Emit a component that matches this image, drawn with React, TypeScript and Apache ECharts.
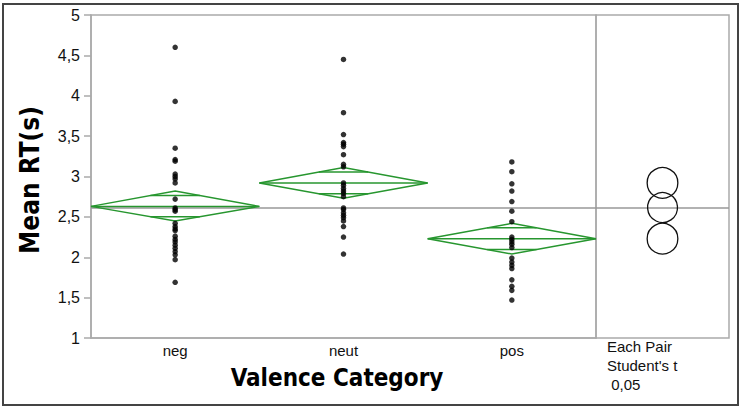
import React, { useEffect, useRef } from "react";
import * as echarts from "echarts";

const categories = ["neg", "neut", "pos"];
const negRT = [4.6, 3.93, 3.35, 3.21, 3.19, 3.03, 3.0, 2.97, 2.92, 2.72, 2.61, 2.59, 2.57, 2.42, 2.38, 2.35, 2.33, 2.26, 2.22, 2.19, 2.15, 2.11, 2.07, 2.03, 1.97, 1.69];
const neutRT = [4.45, 3.79, 3.52, 3.42, 3.4, 3.37, 3.27, 3.15, 3.12, 2.92, 2.89, 2.85, 2.82, 2.79, 2.75, 2.61, 2.59, 2.55, 2.52, 2.49, 2.45, 2.38, 2.25, 2.04];
const posRT = [3.18, 3.06, 2.91, 2.82, 2.69, 2.57, 2.44, 2.25, 2.22, 2.19, 2.16, 2.12, 1.99, 1.94, 1.9, 1.86, 1.72, 1.64, 1.59, 1.47];
const means = [2.63, 2.92, 2.23];
const ciLower = [2.45, 2.73, 2.04];
const ciUpper = [2.82, 3.11, 2.42];
const grandMean = 2.61;
const yMin = 1;
const yMax = 5;
const yInterval = 0.5;
const comparisonText = ["Each Pair", "Student's t", " 0,05"];
const yTitle = "Mean RT(s)";
const xTitle = "Valence Category";

export default function App() {
  const ref = useRef<HTMLDivElement>(null);
  useEffect(() => {
    if (!ref.current) return;
    const chart = echarts.init(ref.current, undefined, { renderer: "svg" });
    const groups = [negRT, neutRT, posRT];
    const points: number[][] = [];
    groups.forEach((g, i) => g.forEach((v) => points.push([i, v])));
    const diamondData = means.map((m, i) => [i, m, ciLower[i], ciUpper[i]]);
    const green = "#27962f";
    const titleFont = "'DejaVu Sans Condensed', 'DejaVu Sans', sans-serif";
    const labelFont = "'Liberation Sans', Arial, sans-serif";
    const option: any = {
      animation: false,
      backgroundColor: "#fff",
      grid: [
        { left: 91, top: 15, width: 505, height: 323, show: true, borderColor: "#aaa", borderWidth: 1.5, containLabel: false },
        { left: 596, top: 15, width: 133, height: 323, show: true, borderColor: "#aaa", borderWidth: 1.5, containLabel: false },
      ],
      xAxis: [
        {
          type: "category",
          gridIndex: 0,
          data: categories,
          axisLine: { lineStyle: { color: "#aaa", width: 1.5 } },
          axisTick: { length: 5, lineStyle: { color: "#aaa", width: 1.5 } },
          axisLabel: { fontSize: 15, color: "#111", margin: 5, fontFamily: labelFont },
        },
        { type: "value", gridIndex: 1, min: 0, max: 1, show: false },
      ],
      yAxis: [
        {
          type: "value",
          gridIndex: 0,
          min: yMin,
          max: yMax,
          interval: yInterval,
          axisLine: { show: true, lineStyle: { color: "#aaa", width: 1.5 } },
          axisTick: { show: true, length: 7, lineStyle: { color: "#aaa", width: 1.5 } },
          splitLine: { show: false },
          axisLabel: {
            fontSize: 16,
            color: "#111",
            margin: 11,
            fontFamily: labelFont,
            formatter: (v: number) => String(v).replace(".", ","),
          },
        },
        { type: "value", gridIndex: 1, min: yMin, max: yMax, show: false },
      ],
      series: [
        {
          type: "scatter",
          xAxisIndex: 0,
          yAxisIndex: 0,
          data: points,
          symbolSize: 5.5,
          itemStyle: { color: "#000" },
          z: 5,
          markLine: {
            silent: true,
            symbol: "none",
            label: { show: false },
            lineStyle: { color: "#999", width: 1.5, type: "solid" },
            data: [{ yAxis: grandMean }],
            z: 1,
          },
        },
        {
          type: "line",
          xAxisIndex: 1,
          yAxisIndex: 1,
          data: [[0, grandMean], [1, grandMean]],
          showSymbol: false,
          lineStyle: { color: "#999", width: 1.5 },
          z: 1,
        },
        {
          type: "custom",
          xAxisIndex: 0,
          yAxisIndex: 0,
          data: diamondData,
          z: 3,
          renderItem: (params: any, api: any) => {
            const i = api.value(0);
            const m = api.value(1);
            const lo = api.value(2);
            const hi = api.value(3);
            const c = api.coord([i, m]);
            const top = api.coord([i, hi])[1];
            const bot = api.coord([i, lo])[1];
            const w = api.size([1, 0])[0];
            const xl = c[0] - w / 2;
            const xr = c[0] + w / 2;
            const k = 1 / Math.SQRT2;
            const yu = c[1] - (c[1] - top) * k;
            const yl = c[1] + (bot - c[1]) * k;
            const hw = ((1 - k) * w) / 2;
            const st = { stroke: green, lineWidth: 1.5, fill: "none" };
            return {
              type: "group",
              children: [
                { type: "polygon", shape: { points: [[xl, c[1]], [c[0], top], [xr, c[1]], [c[0], bot]] }, style: st },
                { type: "line", shape: { x1: xl, y1: c[1], x2: xr, y2: c[1] }, style: st },
                { type: "line", shape: { x1: c[0] - hw, y1: yu, x2: c[0] + hw, y2: yu }, style: st },
                { type: "line", shape: { x1: c[0] - hw, y1: yl, x2: c[0] + hw, y2: yl }, style: st },
              ],
            };
          },
        },
        {
          type: "custom",
          xAxisIndex: 1,
          yAxisIndex: 1,
          data: diamondData,
          z: 3,
          renderItem: (params: any, api: any) => {
            const m = api.value(1);
            const lo = api.value(2);
            const hi = api.value(3);
            const c = api.coord([0.5, m]);
            const r = api.size([0, (hi - lo) / 2])[1];
            return {
              type: "circle",
              shape: { cx: c[0], cy: c[1], r },
              style: { fill: "none", stroke: "#111", lineWidth: 1.3 },
            };
          },
        },
      ],
      graphic: [
        {
          type: "rect",
          shape: { x: 3, y: 4, width: 735, height: 401 },
          style: { fill: "none", stroke: "#444", lineWidth: 2 },
          silent: true,
        },
        {
          type: "text",
          x: 30,
          y: 180,
          rotation: Math.PI / 2,
          style: {
            text: yTitle,
            font: `bold 26px ${titleFont}`,
            fill: "#000",
            align: "center",
            verticalAlign: "middle",
          },
        },
        {
          type: "text",
          x: 337,
          y: 378,
          style: {
            text: xTitle,
            font: `bold 24px ${titleFont}`,
            fill: "#000",
            align: "center",
            verticalAlign: "middle",
          },
        },
        ...comparisonText.map((t, i) => ({
          type: "text",
          x: 607,
          y: 346 + i * 19,
          style: {
            text: t,
            font: `15px ${labelFont}`,
            fill: "#111",
            align: "left",
            verticalAlign: "middle",
          },
        })),
      ],
    };
    chart.setOption(option);
    return () => chart.dispose();
  }, []);
  return <div ref={ref} style={{ position: "fixed", left: 0, top: 0, width: 743, height: 412 }} />;
}
